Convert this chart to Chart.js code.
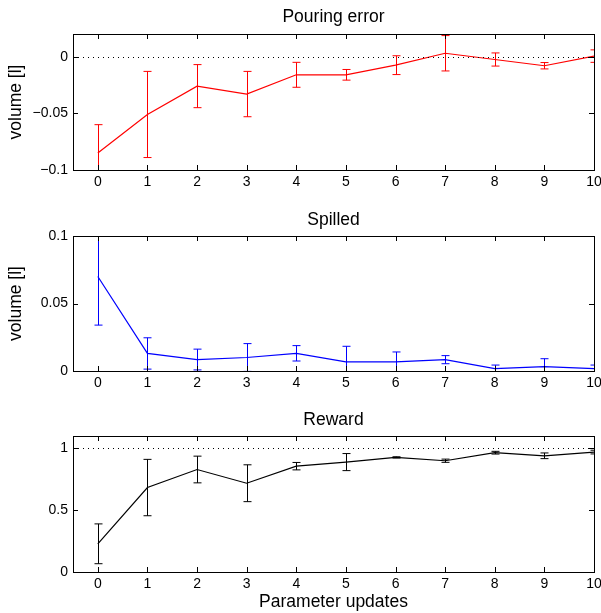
<!DOCTYPE html>
<html>
<head>
<meta charset="UTF-8">
<title>Pouring results</title>
<script src="https://cdn.jsdelivr.net/npm/chart.js"></script>
<style>
  body { margin: 0; background: #fff; }
  canvas { position: absolute; left: 0; }
</style>
</head>
<body>
<canvas id="g1" width="601" height="200" style="top:0"></canvas>
<canvas id="g2" width="601" height="200" style="top:200px"></canvas>
<canvas id="g3" width="601" height="213" style="top:400px"></canvas>

<script>
const updates = [0, 1, 2, 3, 4, 5, 6, 7, 8, 9, 10];

const pourMean = [-0.085, -0.051, -0.026, -0.033, -0.016, -0.016, -0.0075, 0.003, -0.0025, -0.008, 0.0005];
const pourErr  = [0.025, 0.038, 0.019, 0.020, 0.011, 0.0047, 0.0083, 0.0156, 0.0058, 0.0028, 0.0055];

const spillMean = [0.070, 0.013, 0.0085, 0.0100, 0.0131, 0.0067, 0.0067, 0.0084, 0.0017, 0.0032, 0.0017];
const spillErr  = [0.036, 0.0116, 0.0077, 0.0103, 0.0057, 0.0116, 0.0074, 0.0030, 0.0027, 0.0059, 0.0027];

const rewardMean = [0.228, 0.683, 0.829, 0.718, 0.856, 0.889, 0.927, 0.900, 0.965, 0.940, 0.970];
const rewardErr  = [0.161, 0.228, 0.108, 0.149, 0.030, 0.069, 0.005, 0.013, 0.011, 0.023, 0.015];

const pourTicks = [-0.1, -0.05, 0];
const spillTicks = [0, 0.05, 0.1];
const rewardTicks = [0, 0.5, 1];

const FONT = 'Liberation Sans, Arial, Helvetica, sans-serif';
Chart.defaults.font.family = FONT;
Chart.defaults.color = '#000';

// matlab style: box, inward ticks, error bars, dotted reference line
const matlabAxes = {
  id: 'matlabAxes',
  afterDatasetsDraw(chart, args, opts) {
    const ctx = chart.ctx;
    const a = chart.chartArea;
    const xs = chart.scales.x, ys = chart.scales.y;
    ctx.save();

    // error bars
    ctx.save();
    ctx.beginPath();
    ctx.rect(a.left, a.top, a.right - a.left, a.bottom - a.top);
    ctx.clip();
    ctx.strokeStyle = opts.color;
    ctx.lineWidth = 1;
    opts.mean.forEach((m, i) => {
      const px = Math.round(xs.getPixelForValue(updates[i])) + 0.5;
      const y1 = ys.getPixelForValue(m + opts.err[i]);
      const y2 = ys.getPixelForValue(m - opts.err[i]);
      ctx.beginPath();
      ctx.moveTo(px, y1); ctx.lineTo(px, y2);
      ctx.moveTo(px - 4, y1); ctx.lineTo(px + 4, y1);
      ctx.moveTo(px - 4, y2); ctx.lineTo(px + 4, y2);
      ctx.stroke();
    });
    ctx.restore();

    // dotted reference line
    if (opts.ref !== null) {
      const py = Math.round(ys.getPixelForValue(opts.ref)) + 0.5;
      ctx.strokeStyle = '#000';
      ctx.setLineDash([1, 4]);
      ctx.beginPath();
      ctx.moveTo(a.left, py); ctx.lineTo(a.right, py);
      ctx.stroke();
      ctx.setLineDash([]);
    }

    // inward ticks
    ctx.strokeStyle = '#000';
    ctx.lineWidth = 1;
    ctx.beginPath();
    xs.ticks.forEach(t => {
      const px = Math.round(xs.getPixelForValue(t.value)) + 0.5;
      ctx.moveTo(px, a.bottom); ctx.lineTo(px, a.bottom - 5);
      ctx.moveTo(px, a.top); ctx.lineTo(px, a.top + 5);
    });
    ys.ticks.forEach(t => {
      const py = Math.round(ys.getPixelForValue(t.value)) + 0.5;
      ctx.moveTo(a.left, py); ctx.lineTo(a.left + 5, py);
      ctx.moveTo(a.right, py); ctx.lineTo(a.right - 5, py);
    });
    ctx.stroke();

    // box
    ctx.strokeRect(Math.round(a.left) + 0.5, Math.round(a.top) + 0.5,
      Math.round(a.right - a.left), Math.round(a.bottom - a.top));
    ctx.restore();
  }
};

function makePanel(id, title, mean, err, color, yMin, yMax, yTicks, ref, yLabel, xLabel, titlePad, xHeight) {
  new Chart(document.getElementById(id), {
    type: 'line',
    data: {
      datasets: [{
        data: updates.map((u, i) => ({ x: u, y: mean[i] })),
        borderColor: color,
        borderWidth: 1.2,
        pointRadius: 0,
        fill: false,
        tension: 0
      }]
    },
    options: {
      responsive: false,
      animation: false,
      layout: { padding: { left: 0, right: 7, top: 0, bottom: 0 } },
      plugins: {
        legend: { display: false },
        tooltip: { enabled: false },
        title: {
          display: true,
          text: title,
          fullSize: false,
          font: { size: 17.5, weight: 'normal' },
          padding: titlePad
        },
        matlabAxes: { mean, err, color, ref }
      },
      scales: {
        x: {
          type: 'linear',
          min: -0.5,
          max: 10,
          grid: { display: false, drawTicks: false },
          border: { display: false },
          ticks: { font: { size: 14 }, padding: 4, maxRotation: 0 },
          afterBuildTicks: s => { s.ticks = updates.map(v => ({ value: v })); },
          afterFit: s => { s.height = xHeight; s.paddingLeft = 0; s.paddingRight = 0; },
          title: {
            display: !!xLabel,
            text: xLabel || '',
            font: { size: 17.5 },
            padding: { top: 0, bottom: 0 }
          }
        },
        y: {
          min: yMin,
          max: yMax,
          grid: { display: false, drawTicks: false },
          border: { display: false },
          ticks: {
            font: { size: 14 },
            padding: 5,
            callback: v => String(v).replace('-', '\u2212')
          },
          afterBuildTicks: s => { s.ticks = yTicks.map(v => ({ value: v })); },
          afterFit: s => { s.width = 73; s.paddingTop = 0; s.paddingBottom = 0; },
          title: {
            display: !!yLabel,
            text: yLabel || '',
            font: { size: 17.5 },
            padding: { top: 5.5, bottom: 0 }
          }
        }
      }
    },
    plugins: [matlabAxes]
  });
}

makePanel('g1', 'Pouring error', pourMean, pourErr, '#ff0000', -0.1, 0.02, pourTicks, 0,
  'volume [l]', null, { top: 7, bottom: 6 }, 30);
makePanel('g2', 'Spilled', spillMean, spillErr, '#0000ff', 0, 0.1, spillTicks, null,
  'volume [l]', null, { top: 9.5, bottom: 5.5 }, 29);
makePanel('g3', 'Reward', rewardMean, rewardErr, '#000000', 0, 1.1, rewardTicks, 1,
  null, 'Parameter updates', { top: 9.5, bottom: 5.5 }, 41);
</script>
</body>
</html>
